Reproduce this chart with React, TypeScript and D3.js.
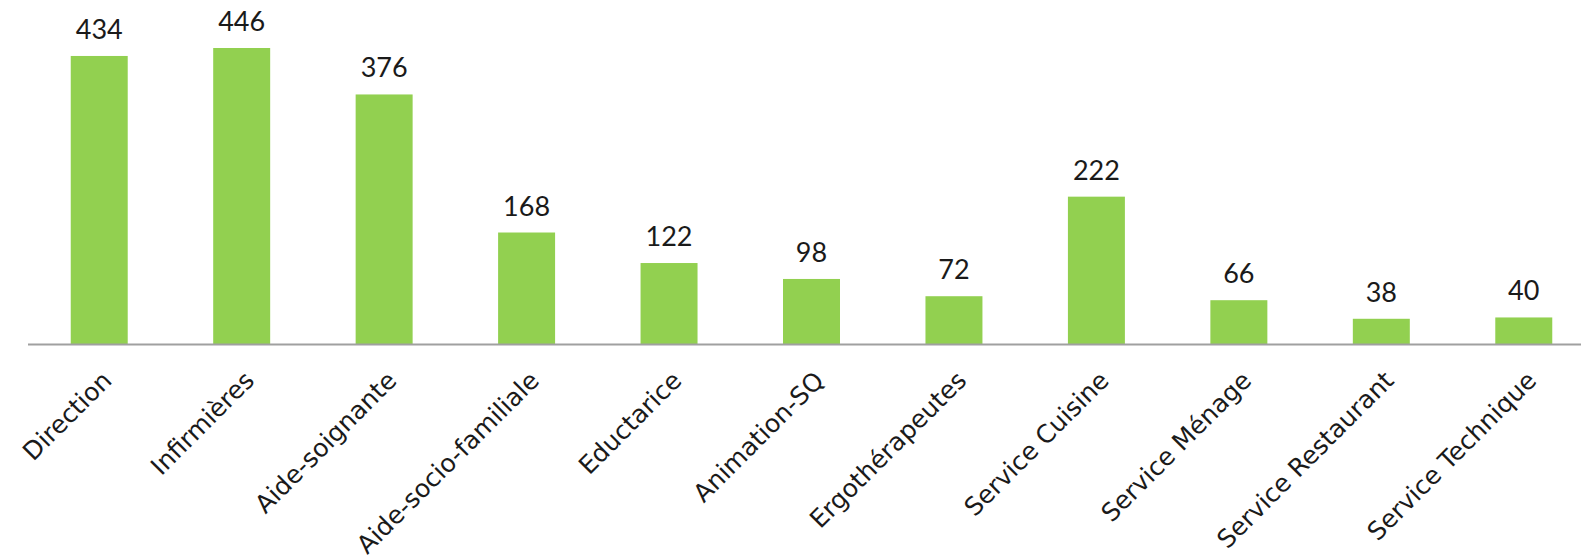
import React from "react";
import * as d3 from "d3";

const categories = [
  "Direction",
  "Infirmières",
  "Aide-soignante",
  "Aide-socio-familiale",
  "Eductarice",
  "Animation-SQ",
  "Ergothérapeutes",
  "Service Cuisine",
  "Service Ménage",
  "Service Restaurant",
  "Service Technique",
];
const values = [434, 446, 376, 168, 122, 98, 72, 222, 66, 38, 40];

const W = 1581;
const H = 560;

export default function App() {
  const x = d3
    .scaleBand<string>()
    .domain(categories)
    .range([28, 1595])
    .paddingInner(0.6)
    .paddingOuter(0.3);
  const y = d3.scaleLinear().domain([0, 446]).range([344, 48]);
  const bw = x.bandwidth();

  return (
    <svg
      width={W}
      height={H}
      style={{ position: "absolute", left: 0, top: 0, background: "#fff" }}
    >
      {categories.map((c, i) => (
        <rect
          key={c}
          x={x(c)}
          y={y(values[i])}
          width={bw}
          height={y(0) - y(values[i])}
          fill="#92D050"
        />
      ))}
      <line x1={28} x2={W} y1={344.5} y2={344.5} stroke="#a0a0a0" strokeWidth={2} />
      {categories.map((c, i) => (
        <text
          key={"v" + c}
          x={(x(c) as number) + bw / 2}
          y={y(values[i]) - 17}
          textAnchor="middle"
          fontFamily="Lato, sans-serif"
          fontSize={27}
          fill="#1a1a1a"
        >
          {values[i]}
        </text>
      ))}
      {categories.map((c) => {
        const cx = (x(c) as number) + bw / 2 + 14;
        const cy = 382;
        return (
          <text
            key={"c" + c}
            x={cx}
            y={cy}
            textAnchor="end"
            transform={`rotate(-45 ${cx} ${cy})`}
            fontFamily="'DejaVu Sans', sans-serif"
            fontSize={25}
            fill="#1a1a1a"
          >
            {c}
          </text>
        );
      })}
    </svg>
  );
}
